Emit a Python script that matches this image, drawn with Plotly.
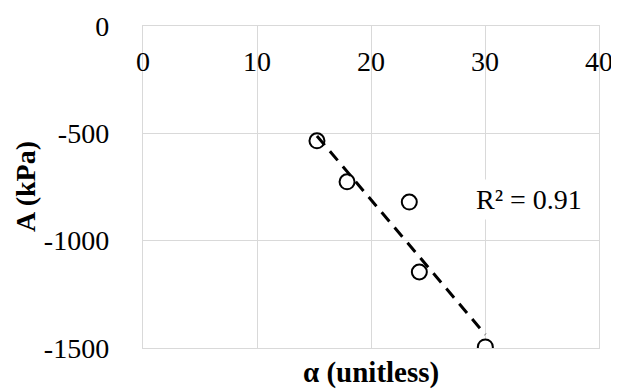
import numpy as np
import plotly.graph_objects as go

alpha = [15.26, 17.9, 23.36, 24.24, 30.03]
A_kpa = [-535, -726, -820, -1146, -1495]
x_ticks = [0, 10, 20, 30, 40]
y_ticks = [0, -500, -1000, -1500]
r2_label = "R² = 0.91"

slope, intercept = np.polyfit(alpha, A_kpa, 1)
fit_x = [min(alpha), max(alpha)]
fit_y = [slope * v + intercept for v in fit_x]

font_family = "Liberation Serif"
grid = "#d9d9d9"

fig = go.Figure()
fig.add_trace(go.Scatter(
    x=alpha, y=A_kpa, mode="markers",
    marker=dict(symbol="circle", size=15, color="white",
                line=dict(color="black", width=2)),
    showlegend=False, hoverinfo="skip"))
fig.add_trace(go.Scatter(
    x=fit_x, y=fit_y, mode="lines",
    line=dict(color="black", width=3, dash="12px,8px"),
    showlegend=False, hoverinfo="skip"))

# page body has an 8px margin, so the figure is a bit smaller and offset
fig.update_layout(
    width=611, height=382,
    margin=dict(l=135, r=20, t=18, b=42),
    paper_bgcolor="white", plot_bgcolor="white",
    font=dict(family=font_family, size=28, color="black"),
    xaxis=dict(
        range=[0, 40], tickvals=x_ticks, ticktext=[str(v) for v in x_ticks],
        side="top", ticklabelposition="inside", ticklabeloverflow="allow",
        ticklabelstandoff=28, automargin=False,
        tickfont=dict(color="black"),
        showgrid=True, gridcolor=grid, gridwidth=1.4,
        zeroline=False, showline=True, mirror=True, linecolor=grid, linewidth=1.4,
        ticks="", fixedrange=True),
    yaxis=dict(
        range=[-1500, 0], tickvals=y_ticks, ticktext=[str(v) for v in y_ticks],
        ticklabelstandoff=27, automargin=False,
        tickfont=dict(color="black"),
        showgrid=True, gridcolor=grid, gridwidth=1.4,
        zeroline=False, showline=True, mirror=True, linecolor=grid, linewidth=1.4,
        ticks="", fixedrange=True),
    annotations=[
        dict(text="<b>α (unitless)</b>", xref="paper", yref="paper",
             x=0.5, y=0, yshift=-24, showarrow=False, yanchor="middle",
             font=dict(size=29)),
        dict(text="<b>A (kPa)</b>", xref="paper", yref="paper",
             x=0, xshift=-118, y=0.5, showarrow=False, textangle=-90,
             xanchor="center", yanchor="middle", font=dict(size=28)),
        dict(text=r2_label, x=33.84, y=-807, xref="x", yref="y",
             showarrow=False, bgcolor="white", borderpad=4,
             font=dict(size=28)),
    ],
)

fig.write_html("out.html")
